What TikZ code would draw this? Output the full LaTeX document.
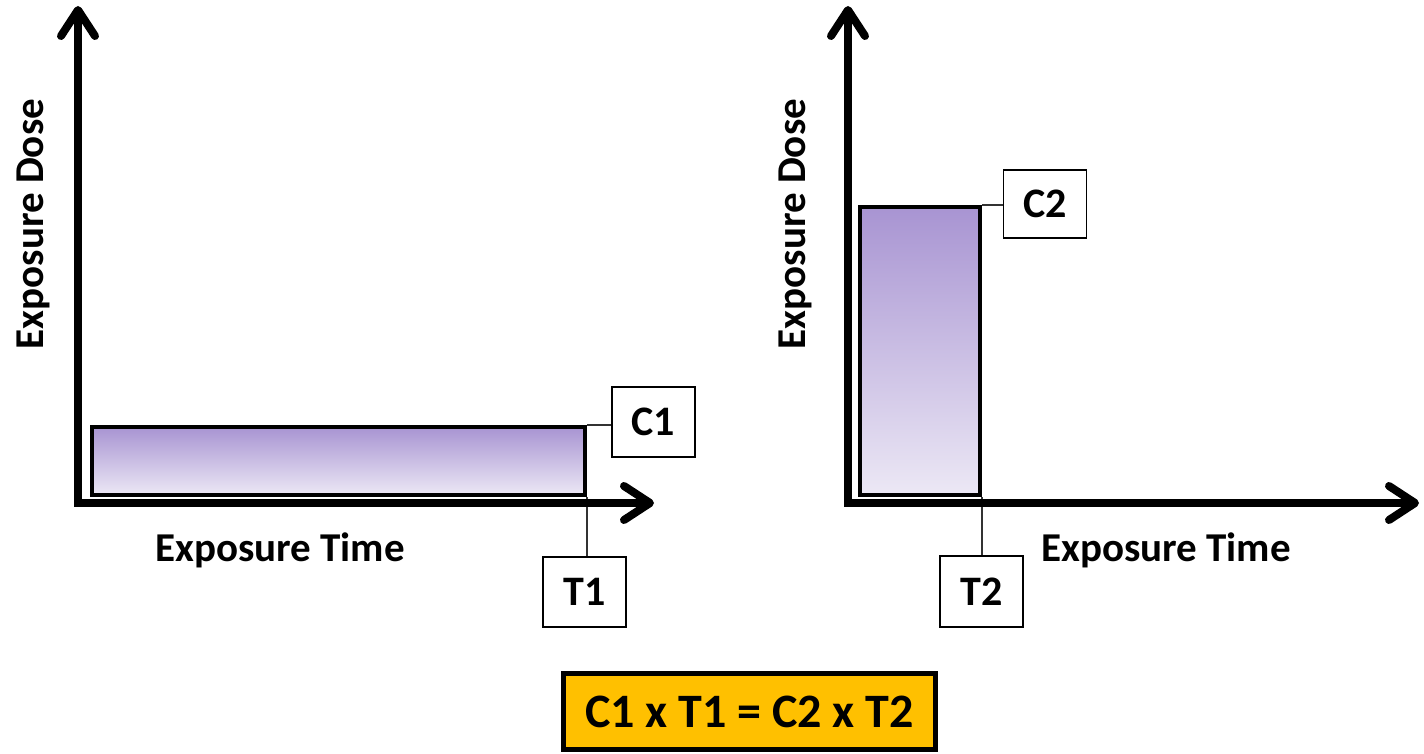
\documentclass[tikz,border=0pt]{standalone}
\usepackage{fontspec}
\setmainfont{Carlito}
\usetikzlibrary{arrows.meta}
\definecolor{barTop}{RGB}{168,148,210}
\definecolor{barBottom}{RGB}{236,232,245}
\definecolor{formulaFill}{RGB}{255,192,0}
\tikzset{
  axisline/.style={line width=8pt, -{Straight Barb[length=26pt,width=34pt,round]}},
  barbox/.style={draw=black, line width=4pt, top color=barTop, bottom color=barBottom,
    inner sep=0pt, anchor=south west},
  tagbox/.style={draw=black, line width=1.3pt, fill=white, inner sep=0pt,
    minimum width=83pt, minimum height=70pt, font=\fontsize{42}{48}\selectfont\bfseries},
  leader/.style={line width=1.2pt, draw=black!80},
  axislabel/.style={font=\fontsize{41}{48}\selectfont\bfseries, inner sep=0pt},
  formulabox/.style={draw=black, line width=5pt, fill=formulaFill, inner sep=0pt,
    minimum width=372pt, minimum height=76pt, font=\fontsize{48}{54}\selectfont\bfseries}
}
\begin{document}
\begin{tikzpicture}[x=1pt, y=-1pt]
\useasboundingbox (0,0) rectangle (1424,754);

% ---- left chart: long, low exposure ----
\node[barbox, minimum width=493pt, minimum height=68pt] (bar1) at (90,497) {};
\node[tagbox] (c1) at (653.5,422) {C1};
\node[tagbox] (t1) at (584.5,592) {T1};
\draw[leader] (bar1.north east) -- (bar1.north east -| c1.west);
\draw[leader] (bar1.south east) -- (bar1.south east |- t1.north);
\coordinate (o1) at (78,503);
\coordinate (ytip1) at (78,6);
\coordinate (xtip1) at (654,503);
\draw[axisline] ([yshift=4pt]o1) -- (ytip1);
\draw[axisline] ([xshift=-4pt]o1) -- (xtip1);
\node[axislabel, rotate=90] (ylab1) at (33,224) {Exposure Dose};
\node[axislabel] (xlab1) at (280,550) {Exposure Time};

% ---- right chart: short, high exposure ----
\node[barbox, minimum width=120pt, minimum height=288pt] (bar2) at (858,497) {};
\node[tagbox, minimum height=68pt] (c2) at (1045,204) {C2};
\node[tagbox, minimum height=71pt] (t2) at (981.5,591.5) {T2};
\draw[leader] (bar2.north east) -- (bar2.north east -| c2.west);
\draw[leader] (bar2.south east) -- (bar2.south east |- t2.north);
\coordinate (o2) at (848,503);
\coordinate (ytip2) at (848,6);
\coordinate (xtip2) at (1419,503);
\draw[axisline] ([yshift=4pt]o2) -- (ytip2);
\draw[axisline] ([xshift=-4pt]o2) -- (xtip2);
\node[axislabel, rotate=90] (ylab2) at (795,224) {Exposure Dose};
\node[axislabel] (xlab2) at (1166,550) {Exposure Time};

% ---- product relation ----
\node[formulabox] (formula) at (749.5,711.5) {C1 x T1 = C2 x T2};
\end{tikzpicture}
\end{document}
